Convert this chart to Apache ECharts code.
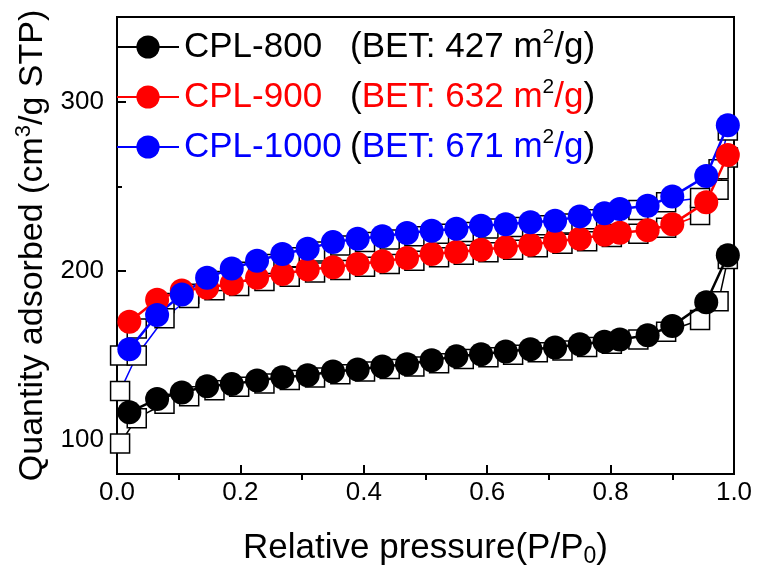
<!DOCTYPE html>
<html>
<head>
<meta charset="utf-8">
<script src="https://cdn.jsdelivr.net/npm/echarts@6/dist/echarts.min.js"></script>
<style>html,body{margin:0;padding:0;background:#fff}#c{width:758px;height:573px}</style>
</head>
<body>
<div id="c"></div>
<script>
// Adsorption branch (filled circles)
var adsP = [0.02, 0.065, 0.105, 0.146, 0.186, 0.227, 0.268, 0.309, 0.35, 0.39, 0.43, 0.47, 0.51, 0.55, 0.59, 0.63, 0.67, 0.71, 0.75, 0.79, 0.815, 0.86, 0.90, 0.955, 0.99];
var ads800 = [116.5, 124.3, 128.2, 131.8, 133.1, 135.3, 137.1, 138.4, 140.6, 141.8, 143.5, 144.9, 147.2, 149.5, 150.8, 152.4, 153.7, 154.7, 156.6, 158.2, 159.5, 162, 167.5, 181.5, 209.3];
var ads900 = [170, 183, 188.4, 190, 192.4, 195.9, 198.2, 200.8, 202.2, 204.1, 205.7, 207.6, 210, 211.2, 212.5, 213.9, 215.5, 217.5, 219, 221.4, 222.5, 224, 227.6, 240.6, 268.5];
var ads1000 = [153.7, 174, 186, 196, 201.4, 206, 210, 213.1, 217, 219, 220.4, 222.4, 223.7, 224.9, 226.7, 227.6, 228.8, 229.6, 232.2, 234.1, 236.5, 238.5, 243.9, 256, 286];
// Desorption branch (open squares)
var desP = [0.005, 0.032, 0.077, 0.117, 0.158, 0.198, 0.239, 0.28, 0.321, 0.362, 0.402, 0.442, 0.482, 0.522, 0.562, 0.602, 0.642, 0.682, 0.722, 0.762, 0.802, 0.845, 0.89, 0.945, 0.975, 0.99];
var des800 = [98, 113, 121.5, 126, 129.5, 131.5, 133.5, 135.5, 137, 139, 140.5, 142, 143.5, 145.5, 148, 149, 150.5, 152, 153, 155, 157, 159.5, 164, 171, 182, 207];
var des900 = [150, 166, 181, 186.5, 188.5, 191, 194, 196.5, 199, 200.5, 202.5, 204, 206, 208, 209.5, 211, 212.5, 214, 216, 217.5, 220, 222, 225.5, 233, 248, 267];
var des1000 = [129, 150, 172, 184, 194, 199.5, 204, 208, 211.5, 215, 217, 218.5, 220.5, 222, 223, 225, 226, 227, 228, 230.5, 233, 236, 240.5, 243, 260, 283];
// Names, labels, ticks
var names = ['CPL-800', 'CPL-900', 'CPL-1000'];
var bet = ['427', '632', '671'];
var colors = ['#000000', '#ff0000', '#0000ff'];
var xTicks = [0, 0.2, 0.4, 0.6, 0.8, 1.0];
var xMinor = [0.1, 0.3, 0.5, 0.7, 0.9];
var yTicks = [100, 200, 300];
var yMinor = [150, 250];

var FONT = 'Liberation Sans';
function pairs(xs, ys) { return xs.map(function (x, i) { return [x, ys[i]]; }); }
var adsSets = [ads800, ads900, ads1000];
var desSets = [des800, des900, des1000];

var series = [];
desSets.forEach(function (d, i) {
  series.push({
    name: names[i] + ' des', type: 'line', data: pairs(desP, d),
    symbol: 'rect', symbolSize: 19, clip: false,
    lineStyle: { color: colors[i], width: 1.5 },
    itemStyle: { color: '#ffffff', borderColor: '#000', borderWidth: 1.5 },
    z: 2, animation: false
  });
});
adsSets.forEach(function (d, i) {
  series.push({
    name: names[i], type: 'line', data: pairs(adsP, d),
    symbol: 'circle', symbolSize: 24, clip: false,
    lineStyle: { color: colors[i], width: 2.5 },
    itemStyle: { color: colors[i] },
    z: 3, animation: false
  });
});

var LF = 35;
var richKey = ['k', 'r', 'b'];
var rich = {
  k: { color: '#000', fontSize: LF, fontFamily: FONT },
  r: { color: '#ff0000', fontSize: LF, fontFamily: FONT },
  b: { color: '#0000ff', fontSize: LF, fontFamily: FONT },
  nk: { color: '#000', fontSize: LF, fontFamily: FONT, width: 166 },
  nr: { color: '#ff0000', fontSize: LF, fontFamily: FONT, width: 166 },
  nb: { color: '#0000ff', fontSize: LF, fontFamily: FONT, width: 166 },
  s: { color: '#000', fontSize: 21, fontFamily: FONT, verticalAlign: 'top', lineHeight: 40 }
};

var chart = echarts.init(document.getElementById('c'), null, { renderer: 'canvas' });
chart.setOption({
  animation: false,
  backgroundColor: '#fff',
  grid: { left: 117, right: 24, top: 17, bottom: 94, show: true, borderColor: '#000', borderWidth: 2, backgroundColor: 'transparent' },
  legend: {
    data: names, orient: 'vertical', left: 116, top: 27, padding: 0,
    itemWidth: 62, itemHeight: 29, itemGap: 10,
    textStyle: { fontFamily: FONT, fontSize: LF, lineHeight: 40, rich: rich },
    formatter: function (n) {
      var i = names.indexOf(n), c = richKey[i];
      return '{n' + c + '|' + n + '}{k|(}{' + c + '|BET: ' + bet[i] + ' m}{s|2}{' + c + '|/g}{k|)}';
    }
  },
  xAxis: [{
    type: 'value', min: 0, max: 1, interval: 0.2,
    axisLine: { lineStyle: { color: '#000', width: 2 } },
    axisTick: { inside: true, length: 9, lineStyle: { color: '#000', width: 2 } },
    splitLine: { show: false },
    axisLabel: { color: '#000', fontSize: 26, fontFamily: FONT, margin: 6, formatter: function (v) { return v.toFixed(1); } },
    name: '{t|Relative pressure(P/P}{u|0}{t|)}', nameLocation: 'middle', nameGap: 54,
    nameTextStyle: { rich: { t: { fontSize: 35, fontFamily: FONT, color: '#000', lineHeight: 40 }, u: { fontSize: 23, fontFamily: FONT, color: '#000', verticalAlign: 'bottom', lineHeight: 40 } } }
  }, {
    type: 'value', min: 0, max: 1, position: 'bottom',
    axisLine: { show: false },
    axisTick: { show: true, inside: false, length: 6, customValues: xMinor, lineStyle: { color: '#000', width: 2 } },
    axisLabel: { show: false }, splitLine: { show: false }
  }],
  yAxis: [{
    type: 'value', min: 80, max: 350,
    axisLine: { show: true, lineStyle: { color: '#000', width: 2 } },
    axisTick: { show: true, inside: true, length: 9, customValues: yTicks, lineStyle: { color: '#000', width: 2 } },
    splitLine: { show: false },
    axisLabel: { color: '#000', fontSize: 26, fontFamily: FONT, margin: 13, customValues: yTicks },
    name: '{t|Quantity adsorbed (cm}{p|3}{t|/g STP)}', nameLocation: 'middle', nameGap: 58,
    nameTextStyle: { rich: { t: { fontSize: 34, fontFamily: FONT, color: '#000', lineHeight: 40 }, p: { fontSize: 22, fontFamily: FONT, color: '#000', verticalAlign: 'top', lineHeight: 40 } } }
  }, {
    type: 'value', min: 80, max: 350, position: 'left',
    axisLine: { show: false },
    axisTick: { show: true, inside: true, length: 5, customValues: yMinor, lineStyle: { color: '#000', width: 2 } },
    axisLabel: { show: false }, splitLine: { show: false }
  }],
  series: series
});
</script>
</body>
</html>
